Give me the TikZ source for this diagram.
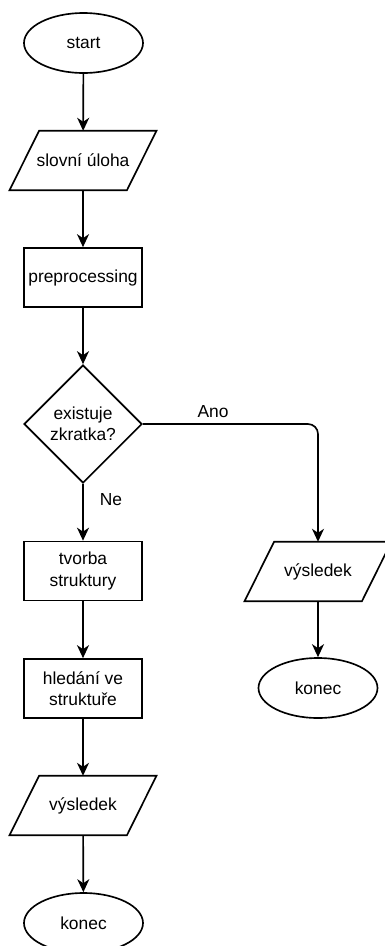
\documentclass[tikz,border=0pt]{standalone}
\usepackage{fontspec}
\setmainfont{Liberation Sans}
\usetikzlibrary{shapes.geometric,arrows.meta}

% parallelogram outline around an (invisible) rectangular node
\newcommand\ioframe[1]{%
  \draw[shapeline] ([xshift=-14.75pt]#1.south west) -- ([xshift=-14.75pt]#1.south east)
    -- ([xshift=14.75pt]#1.north east) -- ([xshift=14.75pt]#1.north west) -- cycle;}

\tikzset{
  shapeline/.style={line width=1.65pt, black, line join=miter},
  base/.style={font=\fontsize{17.4}{21.2}\selectfont, align=center, inner sep=0pt},
  terminal/.style={base, ellipse, draw, line width=1.65pt, minimum width=119pt, minimum height=60pt},
  process/.style={base, rectangle, draw, line width=1.65pt, minimum width=118pt, minimum height=59pt},
  decision/.style={base, diamond, draw, line width=1.65pt, minimum width=118pt, minimum height=118pt},
  iobox/.style={base, rectangle, minimum width=117pt, minimum height=59pt},
  flow/.style={line width=1.65pt, -{Stealth[length=13pt,width=12pt,inset=4pt]}},
  lbl/.style={font=\fontsize{17.4}{21.2}\selectfont, inner sep=0pt},
}

\begin{document}
\begin{tikzpicture}[x=1pt, y=-1pt]
  \useasboundingbox (0,0) rectangle (385,946);

  % main column
  \node[terminal] (start)   at (83.5,43)   {start};
  \node[iobox]    (zadani)  at (83,160.5)  {slovní úloha};
  \node[process]  (prep)    at (83,277.5)  {preprocessing};
  \node[decision] (zkratka) at (83,424)    {existuje\\zkratka?};
  \node[process]  (tvorba)  at (83,571)    {tvorba\\struktury};
  \node[process]  (hledani) at (83,688.5)  {hledání ve\\struktuře};
  \node[iobox]    (vysA)    at (83,805.5)  {výsledek};
  \node[terminal] (konecA)  at (83.5,923)  {konec};

  % shortcut branch
  \node[iobox]    (vysB)    at (318,571.5) {výsledek};
  \node[terminal] (konecB)  at (318,688)   {konec};

  \ioframe{zadani}
  \ioframe{vysA}
  \ioframe{vysB}

  % connectors
  \draw[flow] (start) -- (zadani);
  \draw[flow] (zadani) -- (prep);
  \draw[flow] (prep) -- (zkratka);
  \draw[flow] (zkratka) -- (tvorba);
  \draw[flow] (tvorba) -- (hledani);
  \draw[flow] (hledani) -- (vysA);
  \draw[flow] (vysA) -- (konecA);
  \draw[flow, rounded corners=10pt] (zkratka.east) -| (vysB.north);
  \draw[flow] (vysB) -- (konecB);

  % branch labels
  \node[lbl] (ano) at (213,412) {Ano};
  \node[lbl] (ne)  at (111,500) {Ne};
\end{tikzpicture}
\end{document}
